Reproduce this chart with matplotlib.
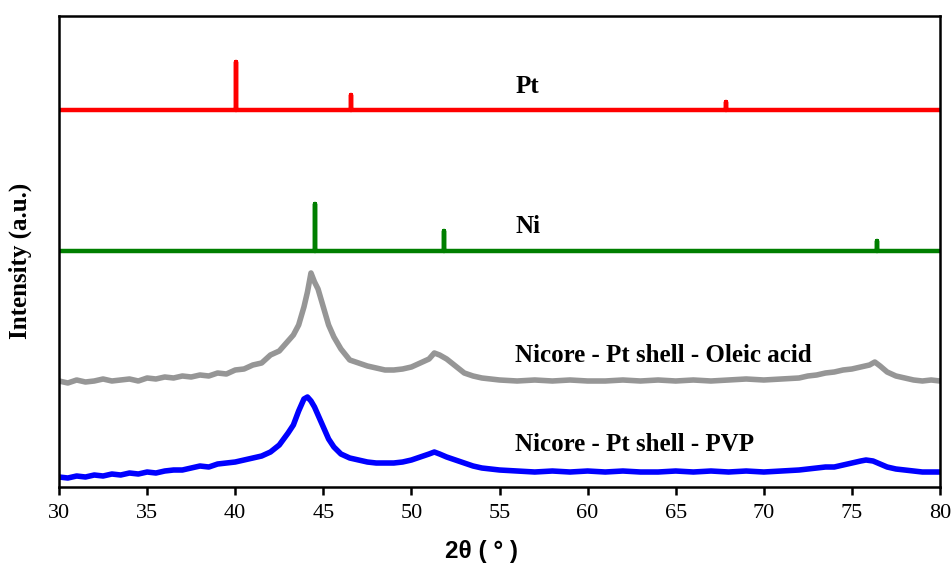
import matplotlib
matplotlib.use("Agg")
import matplotlib.pyplot as plt
import numpy as np

# ---- data (intensity in arbitrary units) ----
pt_base = 377
pt_peaks_x = [40.05, 46.55, 67.85]
pt_peaks_h = [425, 392, 385]

ni_base = 236
ni_peaks_x = [44.5, 51.85, 76.4]
ni_peaks_h = [283, 256, 246]

oleic_x = [30, 30.5, 31, 31.5, 32, 32.5, 33, 33.5, 34, 34.5, 35, 35.5, 36, 36.5, 37, 37.5,
           38, 38.5, 39, 39.5, 40, 40.5, 41, 41.5, 42, 42.5, 43, 43.3, 43.6, 43.9, 44.1, 44.3,
           44.5, 44.7, 45, 45.3, 45.6, 46, 46.5, 47, 47.5, 48, 48.5, 49, 49.5, 50, 50.5, 51,
           51.3, 51.6, 52, 52.5, 53, 53.5, 54, 54.5, 55, 56, 57, 58, 59, 60, 61, 62, 63, 64,
           65, 66, 67, 68, 69, 70, 71, 72, 72.5, 73, 73.5, 74, 74.5, 75, 75.5, 76, 76.3, 76.6,
           77, 77.5, 78, 78.5, 79, 79.5, 80]
oleic_y = [106, 104, 107, 105, 106, 108, 106, 107, 108, 106, 109, 108, 110, 109, 111, 110,
           112, 111, 114, 113, 117, 118, 122, 124, 132, 136, 146, 152, 162, 180, 195, 214,
           205, 198, 180, 162, 150, 138, 127, 124, 121, 119, 117, 117, 118, 120, 124, 128,
           134, 132, 128, 121, 114, 111, 109, 108, 107, 106, 107, 106, 107, 106, 106, 107, 106, 107,
           106, 107, 106, 107, 108, 107, 108, 109, 111, 112, 114, 115, 117, 118, 120, 122, 125, 121,
           115, 111, 109, 107, 106, 107, 106]

pvp_x = [30, 30.5, 31, 31.5, 32, 32.5, 33, 33.5, 34, 34.5, 35, 35.5, 36, 36.5, 37, 37.5,
         38, 38.5, 39, 39.5, 40, 40.5, 41, 41.5, 42, 42.5, 43, 43.3, 43.6, 43.9, 44.1, 44.3,
         44.5, 44.7, 45, 45.3, 45.6, 46, 46.5, 47, 47.5, 48, 48.5, 49, 49.5, 50, 50.5, 51,
         51.3, 51.6, 52, 52.5, 53, 53.5, 54, 54.5, 55, 56, 57, 58, 59, 60, 61, 62, 63, 64,
         65, 66, 67, 68, 69, 70, 71, 72, 72.5, 73, 73.5, 74, 74.5, 75, 75.5, 75.8, 76.2, 76.6,
         77, 77.5, 78, 78.5, 79, 79.5, 80]
pvp_y = [10, 9, 11, 10, 12, 11, 13, 12, 14, 13, 15, 14, 16, 17, 17, 19,
         21, 20, 23, 24, 25, 27, 29, 31, 35, 42, 54, 62, 76, 88, 90, 86,
         80, 72, 60, 48, 40, 33, 29, 27, 25, 24, 24, 24, 25, 27, 30, 33,
         35, 33, 30, 27, 24, 21, 19, 18, 17, 16, 15, 16, 15, 16, 15, 16, 15, 15,
         16, 15, 16, 15, 16, 15, 16, 17, 18, 19, 20, 20, 22, 24, 26, 27, 26, 23,
         20, 18, 17, 16, 15, 15, 15]

labels = ["Pt", "Ni", "Nicore - Pt shell - Oleic acid", "Nicore - Pt shell - PVP"]
label_y = [400, 260, 131, 43]
label_x = 55.9

xticks = [30, 35, 40, 45, 50, 55, 60, 65, 70, 75, 80]


def stick_pattern(base, px, ph, x0=30, x1=80):
    xs, ys = [x0], [base]
    for p, h in zip(px, ph):
        xs += [p, p, p]
        ys += [base, h, base]
    xs.append(x1)
    ys.append(base)
    return xs, ys


fig = plt.figure(figsize=(9.52, 5.70), dpi=100)
ax = fig.add_axes([0.062, 0.1456, 0.9254, 0.8264])

xs, ys = stick_pattern(pt_base, pt_peaks_x, pt_peaks_h)
ax.plot(xs, ys, color="#ff0000", lw=3.2, solid_capstyle="round", solid_joinstyle="round")
xs, ys = stick_pattern(ni_base, ni_peaks_x, ni_peaks_h)
ax.plot(xs, ys, color="#007f00", lw=3.2, solid_capstyle="round", solid_joinstyle="round")
ax.plot(oleic_x, oleic_y, color="#969696", lw=4.0)
ax.plot(pvp_x, pvp_y, color="#0000ff", lw=4.0)

serif = ["Liberation Serif", "DejaVu Serif"]
for t, yv in zip(labels, label_y):
    ax.text(label_x, yv, t, fontsize=18, fontweight="bold", family=serif,
            ha="left", va="center")

ax.set_xlim(30, 80)
ax.set_ylim(0, 471)
ax.set_xticks(xticks)
ax.set_xticklabels([str(v) for v in xticks], family=serif, fontsize=16)
ax.set_yticks([])
ax.tick_params(axis="x", direction="out", length=6, width=1.8, pad=6)
for s in ax.spines.values():
    s.set_linewidth(1.8)
    s.set_color("black")

ax.set_xlabel("2θ ( ° )", fontsize=17.5, fontweight="bold",
              family=["Liberation Sans", "DejaVu Sans"])
ax.xaxis.set_label_coords(0.479, -0.113)
ax.set_ylabel("Intensity (a.u.)", fontsize=18, fontweight="bold", family=serif)
ax.yaxis.set_label_coords(-0.031, 0.48)

fig.savefig("out.png", dpi=100)
